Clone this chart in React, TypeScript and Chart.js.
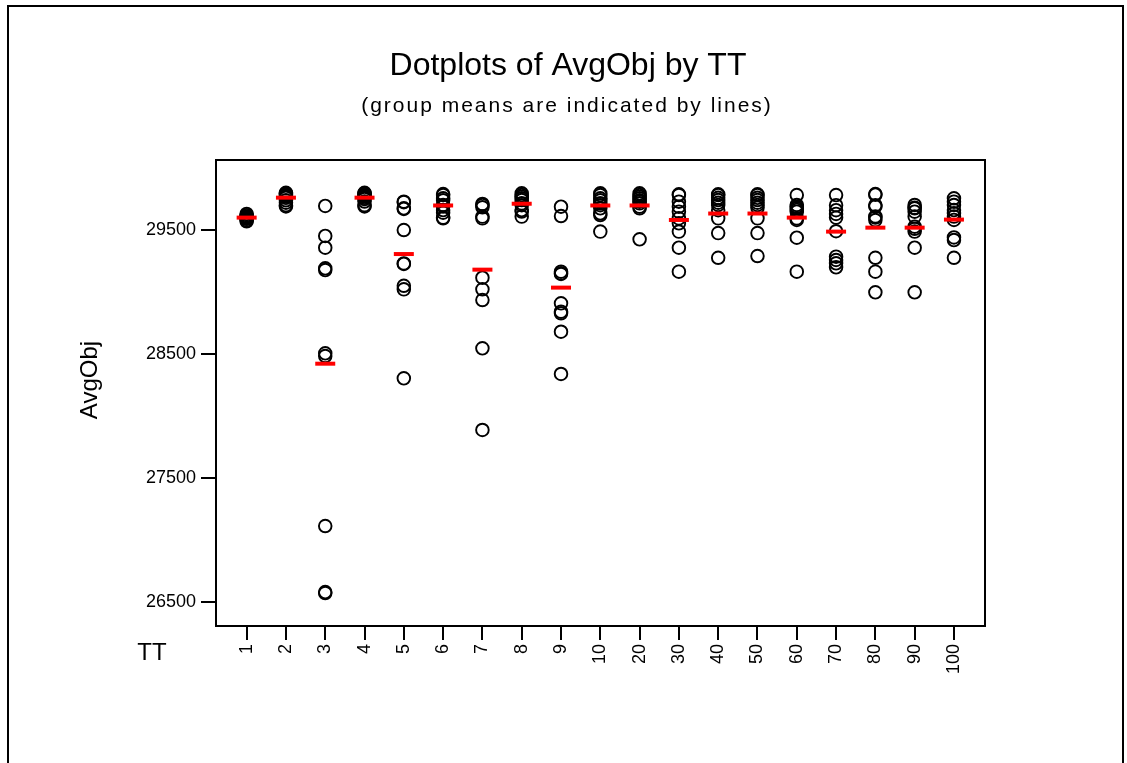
import { useEffect, useRef } from 'react';
import { Chart, registerables } from 'chart.js';

Chart.register(...registerables);

// Categories (TT levels)
const categories = ['1', '2', '3', '4', '5', '6', '7', '8', '9', '10', '20', '30', '40', '50', '60', '70', '80', '90', '100'];

const tt1 = [29630, 29620, 29610, 29605, 29600, 29600, 29595, 29590, 29580, 29570];
const tt2 = [29800, 29795, 29790, 29780, 29770, 29760, 29740, 29720, 29700, 29690];
const tt3 = [29694, 29452, 29357, 29191, 29177, 28505, 28483, 27111, 26578, 26570];
const tt4 = [29800, 29795, 29790, 29780, 29770, 29760, 29750, 29730, 29700, 29690];
const tt5 = [29729, 29725, 29675, 29670, 29500, 29230, 29226, 29050, 29021, 28303];
const tt6 = [29790, 29782, 29756, 29740, 29702, 29690, 29661, 29640, 29600, 29594];
const tt7 = [29710, 29702, 29683, 29608, 29594, 29115, 29021, 28935, 28545, 27886];
const tt8 = [29796, 29782, 29769, 29756, 29742, 29715, 29700, 29661, 29649, 29608];
const tt9 = [29688, 29613, 29164, 29150, 29145, 28908, 28841, 28828, 28679, 28338];
const tt10 = [29796, 29782, 29756, 29740, 29715, 29700, 29675, 29635, 29621, 29487];
const tt20 = [29796, 29782, 29769, 29756, 29740, 29729, 29715, 29688, 29675, 29425];
const tt30 = [29788, 29782, 29729, 29688, 29648, 29594, 29554, 29487, 29357, 29164];
const tt40 = [29788, 29782, 29760, 29742, 29720, 29702, 29660, 29594, 29475, 29276];
const tt50 = [29788, 29782, 29760, 29742, 29720, 29702, 29680, 29594, 29475, 29290];
const tt60 = [29782, 29702, 29688, 29675, 29662, 29648, 29594, 29581, 29438, 29164];
const tt70 = [29782, 29700, 29660, 29630, 29600, 29490, 29285, 29258, 29231, 29199];
const tt80 = [29790, 29785, 29700, 29690, 29610, 29600, 29580, 29276, 29164, 28997];
const tt90 = [29702, 29680, 29675, 29648, 29608, 29527, 29510, 29487, 29357, 28997];
const tt100 = [29756, 29729, 29702, 29661, 29635, 29608, 29581, 29440, 29419, 29276];

const groups = [tt1, tt2, tt3, tt4, tt5, tt6, tt7, tt8, tt9, tt10, tt20, tt30, tt40, tt50, tt60, tt70, tt80, tt90, tt100];

// Group means (red lines)
const groupMeans = [29600, 29761, 28421, 29761, 29306, 29698, 29180, 29712, 29035, 29698, 29698, 29581, 29633, 29633, 29600, 29487, 29519, 29519, 29584];

// Y tick labels
const yTicks = [26500, 27500, 28500, 29500];

const FONT = "'Liberation Sans', Arial, Helvetica, sans-serif";

const decorPlugin = {
  id: 'decor',
  afterDraw(chart: any) {
    const ctx = chart.ctx as CanvasRenderingContext2D;
    const a = chart.chartArea;
    ctx.save();
    // outer figure border
    ctx.strokeStyle = '#000';
    ctx.lineWidth = 2;
    ctx.beginPath();
    ctx.moveTo(8, 763);
    ctx.lineTo(8, 6);
    ctx.lineTo(1123, 6);
    ctx.lineTo(1123, 763);
    ctx.stroke();
    // plot frame
    ctx.lineWidth = 2;
    ctx.strokeRect(a.left, a.top, a.right - a.left, a.bottom - a.top);
    // titles
    ctx.fillStyle = '#000';
    ctx.textAlign = 'center';
    ctx.textBaseline = 'alphabetic';
    ctx.font = `32px ${FONT}`;
    ctx.fillText('Dotplots of AvgObj by TT', 568, 75);
    ctx.font = `21px ${FONT}`;
    (ctx as any).letterSpacing = '2px';
    ctx.fillText('(group means are indicated by lines)', 567, 112);
    (ctx as any).letterSpacing = '0px';
    // axis titles
    ctx.font = `24px ${FONT}`;
    ctx.textBaseline = 'middle';
    ctx.fillText('TT', 152, 653);
    ctx.translate(90, 380);
    ctx.rotate(-Math.PI / 2);
    ctx.fillText('AvgObj', 0, 0);
    ctx.restore();
  },
};

export default function App() {
  const ref = useRef<HTMLCanvasElement>(null);
  useEffect(() => {
    if (!ref.current) return;
    const pointData = groups.flatMap((g, i) => g.map((v) => ({ x: i + 1, y: v })));
    const meanData = groupMeans.map((m, i) => ({ x: i + 1, y: m }));
    const tickFont = { family: FONT, size: 18 };
    const chart = new Chart(ref.current, {
      type: 'scatter',
      data: {
        datasets: [
          {
            label: 'Group mean',
            data: meanData,
            order: 0,
            pointStyle: 'line',
            pointRadius: 10,
            pointHoverRadius: 10,
            pointBorderWidth: 4,
            borderColor: '#ff0000',
            backgroundColor: '#ff0000',
          },
          {
            label: 'AvgObj',
            data: pointData,
            order: 1,
            pointStyle: 'circle',
            pointRadius: 6.3,
            pointHoverRadius: 6.3,
            pointBorderWidth: 1.9,
            borderColor: '#000000',
            backgroundColor: 'rgba(0,0,0,0)',
          },
        ],
      },
      options: {
        responsive: false,
        animation: false,
        events: [],
        layout: { padding: { left: 0, top: 160, right: 142, bottom: 0 } },
        plugins: {
          legend: { display: false },
          tooltip: { enabled: false },
          title: { display: false },
        },
        scales: {
          x: {
            type: 'linear',
            min: 0.22,
            max: 19.79,
            afterBuildTicks: (s: any) => {
              s.ticks = categories.map((_, i) => ({ value: i + 1 }));
            },
            afterFit: (s: any) => {
              s.height = 137;
            },
            ticks: {
              autoSkip: false,
              maxRotation: 90,
              minRotation: 90,
              padding: 4,
              color: '#000',
              font: tickFont,
              callback: (v: any) => categories[Math.round(Number(v)) - 1] ?? '',
            },
            grid: {
              drawOnChartArea: false,
              drawTicks: true,
              tickLength: 14,
              color: '#000',
              lineWidth: 2,
            },
            border: { display: false },
          },
          y: {
            type: 'linear',
            min: 26304,
            max: 30065,
            afterBuildTicks: (s: any) => {
              s.ticks = yTicks.map((v) => ({ value: v }));
            },
            afterFit: (s: any) => {
              s.width = 216;
            },
            ticks: {
              padding: 5,
              color: '#000',
              font: tickFont,
              callback: (v: any) => String(v),
            },
            grid: {
              drawOnChartArea: false,
              drawTicks: true,
              tickLength: 15,
              color: '#000',
              lineWidth: 2,
            },
            border: { display: false },
          },
        },
      },
      plugins: [decorPlugin],
    } as any);
    return () => chart.destroy();
  }, []);
  return (
    <div style={{ position: 'absolute', left: 0, top: 0, width: 1127, height: 763, background: '#fff' }}>
      <canvas ref={ref} width={1127} height={763} style={{ display: 'block' }} />
    </div>
  );
}
